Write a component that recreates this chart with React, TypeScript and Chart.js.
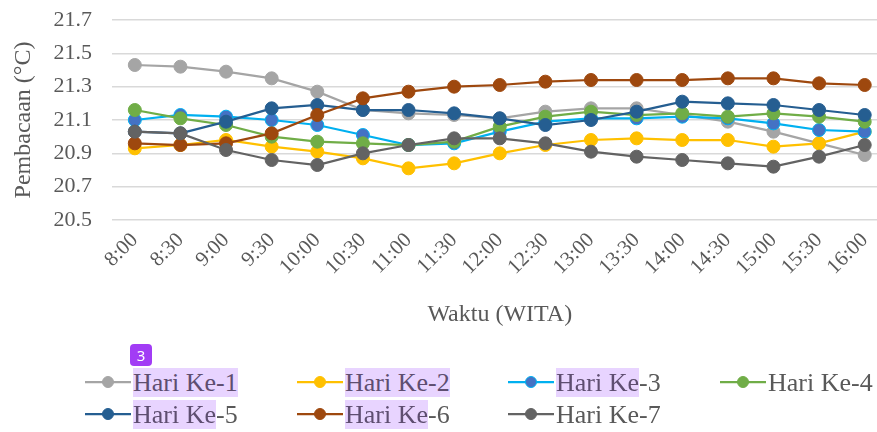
import React, { useEffect, useRef } from "react";
import { Chart, registerables } from "chart.js";

Chart.register(...registerables);

const timeLabels = ["8:00", "8:30", "9:00", "9:30", "10:00", "10:30", "11:00", "11:30", "12:00", "12:30", "13:00", "13:30", "14:00", "14:30", "15:00", "15:30", "16:00"];
const seriesNames = ["Hari Ke-1", "Hari Ke-2", "Hari Ke-3", "Hari Ke-4", "Hari Ke-5", "Hari Ke-6", "Hari Ke-7"];
const hari1 = [21.43, 21.42, 21.39, 21.35, 21.27, 21.16, 21.14, 21.13, 21.11, 21.15, 21.17, 21.17, 21.13, 21.09, 21.03, 20.96, 20.89];
const hari2 = [20.93, 20.95, 20.98, 20.94, 20.91, 20.87, 20.81, 20.84, 20.90, 20.95, 20.98, 20.99, 20.98, 20.98, 20.94, 20.96, 21.03];
const hari3 = [21.10, 21.13, 21.12, 21.10, 21.07, 21.01, 20.95, 20.96, 21.03, 21.09, 21.11, 21.11, 21.12, 21.11, 21.08, 21.04, 21.03];
const hari4 = [21.16, 21.11, 21.07, 21.00, 20.97, 20.96, 20.95, 20.97, 21.06, 21.12, 21.15, 21.13, 21.14, 21.12, 21.14, 21.12, 21.09];
const hari5 = [21.03, 21.02, 21.09, 21.17, 21.19, 21.16, 21.16, 21.14, 21.11, 21.07, 21.10, 21.15, 21.21, 21.20, 21.19, 21.16, 21.13];
const hari6 = [20.96, 20.95, 20.96, 21.02, 21.13, 21.23, 21.27, 21.30, 21.31, 21.33, 21.34, 21.34, 21.34, 21.35, 21.35, 21.32, 21.31];
const hari7 = [21.03, 21.02, 20.92, 20.86, 20.83, 20.90, 20.95, 20.99, 20.99, 20.96, 20.91, 20.88, 20.86, 20.84, 20.82, 20.88, 20.95];
const yTickValues = [20.5, 20.7, 20.9, 21.1, 21.3, 21.5, 21.7];
const yTitle = "Pembacaan (°C)";
const xTitle = "Waktu (WITA)";

const allSeries = [hari1, hari2, hari3, hari4, hari5, hari6, hari7];
const lineColors = ["#A5A5A5", "#FFC000", "#00B0F0", "#70AD47", "#255E91", "#9E480E", "#636363"];
const fillColors = ["#A5A5A5", "#FFC000", "#4472C4", "#70AD47", "#255E91", "#9E480E", "#636363"];

const FONT = "'Liberation Serif', 'Times New Roman', serif";
const TEXT = "#595959";

// legend highlight overlay (annotation marks seen in the reference)
const highlightLen = [9, 9, 7, 0, 7, 7, 0];

function LegendItem({ idx, x, y }: { idx: number; x: number; y: number }) {
  const name = seriesNames[idx];
  const hl = highlightLen[idx];
  return (
    <div style={{ position: "absolute", left: x, top: y - 16, height: 32, display: "flex", alignItems: "center" }}>
      <svg width={46} height={16} style={{ display: "block" }}>
        <line x1={0} y1={8} x2={46} y2={8} stroke={lineColors[idx]} strokeWidth={2.25} />
        <circle cx={23} cy={8} r={5.5} fill={fillColors[idx]} stroke={lineColors[idx]} strokeWidth={1} />
      </svg>
      <span style={{ marginLeft: 2, fontFamily: FONT, fontSize: 26, color: TEXT, lineHeight: "29px", whiteSpace: "pre" }}>
        {hl > 0 ? (
          <span style={{ background: "#E8D4FF", color: "#5E4E70" }}>{name.slice(0, hl)}</span>
        ) : null}
        {name.slice(hl)}
      </span>
    </div>
  );
}

export default function App() {
  const ref = useRef<HTMLCanvasElement | null>(null);

  useEffect(() => {
    if (!ref.current) return;
    const chart = new Chart(ref.current, {
      type: "line",
      data: {
        labels: timeLabels,
        datasets: allSeries.map((d, i) => ({
          label: seriesNames[i],
          data: d,
          borderColor: lineColors[i],
          backgroundColor: fillColors[i],
          pointBackgroundColor: fillColors[i],
          pointBorderColor: lineColors[i],
          pointBorderWidth: 1,
          pointRadius: 6.5,
          borderWidth: 2.25,
          tension: 0,
          fill: false,
          order: 6 - i,
        })),
      },
      options: {
        responsive: false,
        animation: false,
        layout: { padding: { left: 0, right: 0, top: 20, bottom: 103 } },
        plugins: { legend: { display: false }, tooltip: { enabled: false } },
        scales: {
          x: {
            type: "category",
            offset: true,
            grid: { display: false, drawTicks: false },
            border: { display: false },
            ticks: {
              autoSkip: false,
              minRotation: 45,
              maxRotation: 45,
              padding: 8,
              color: TEXT,
              font: { family: FONT, size: 21 },
            },
            title: {
              display: true,
              text: xTitle,
              color: TEXT,
              font: { family: FONT, size: 24 },
              padding: { top: 0, bottom: 0 },
            },
            afterFit: (s: any) => {
              s.height = 109;
              s.paddingLeft = 0;
              s.paddingRight = 0;
            },
          },
          y: {
            type: "linear",
            min: 20.5,
            max: 21.7,
            grid: { color: "#D9D9D9", lineWidth: 1.5, drawTicks: false },
            border: { display: false },
            afterBuildTicks: (s: any) => {
              s.ticks = yTickValues.map((v) => ({ value: v }));
            },
            ticks: {
              padding: 20,
              color: TEXT,
              font: { family: FONT, size: 22 },
              callback: (v: any) => Number(v).toFixed(1),
            },
            title: {
              display: true,
              text: yTitle,
              color: TEXT,
              font: { family: FONT, size: 24 },
              padding: { top: 9, bottom: 0 },
            },
            afterFit: (s: any) => {
              s.width = 112;
              s.paddingTop = 0;
              s.paddingBottom = 0;
            },
          },
        },
      },
    });
    return () => chart.destroy();
  }, []);

  const cols = [85, 297, 508, 720];
  const rows = [382, 414];
  const order = [0, 1, 2, 3, 4, 5, 6];

  return (
    <div style={{ position: "fixed", left: 0, top: 0, width: 877, height: 432, overflow: "hidden", background: "#fff" }}>
      <canvas ref={ref} width={895} height={432} style={{ position: "absolute", left: 0, top: 0, width: 895, height: 432 }} />
      {order.map((idx, k) => (
        <LegendItem key={idx} idx={idx} x={cols[k % 4]} y={rows[Math.floor(k / 4)]} />
      ))}
      <div
        style={{
          position: "absolute",
          left: 130,
          top: 344,
          width: 22,
          height: 22,
          borderRadius: 4,
          background: "#A23CF5",
          color: "#fff",
          fontFamily: "'Noto Sans', sans-serif",
          fontSize: 15,
          lineHeight: "22px",
          textAlign: "center",
        }}
      >
        3
      </div>
    </div>
  );
}
